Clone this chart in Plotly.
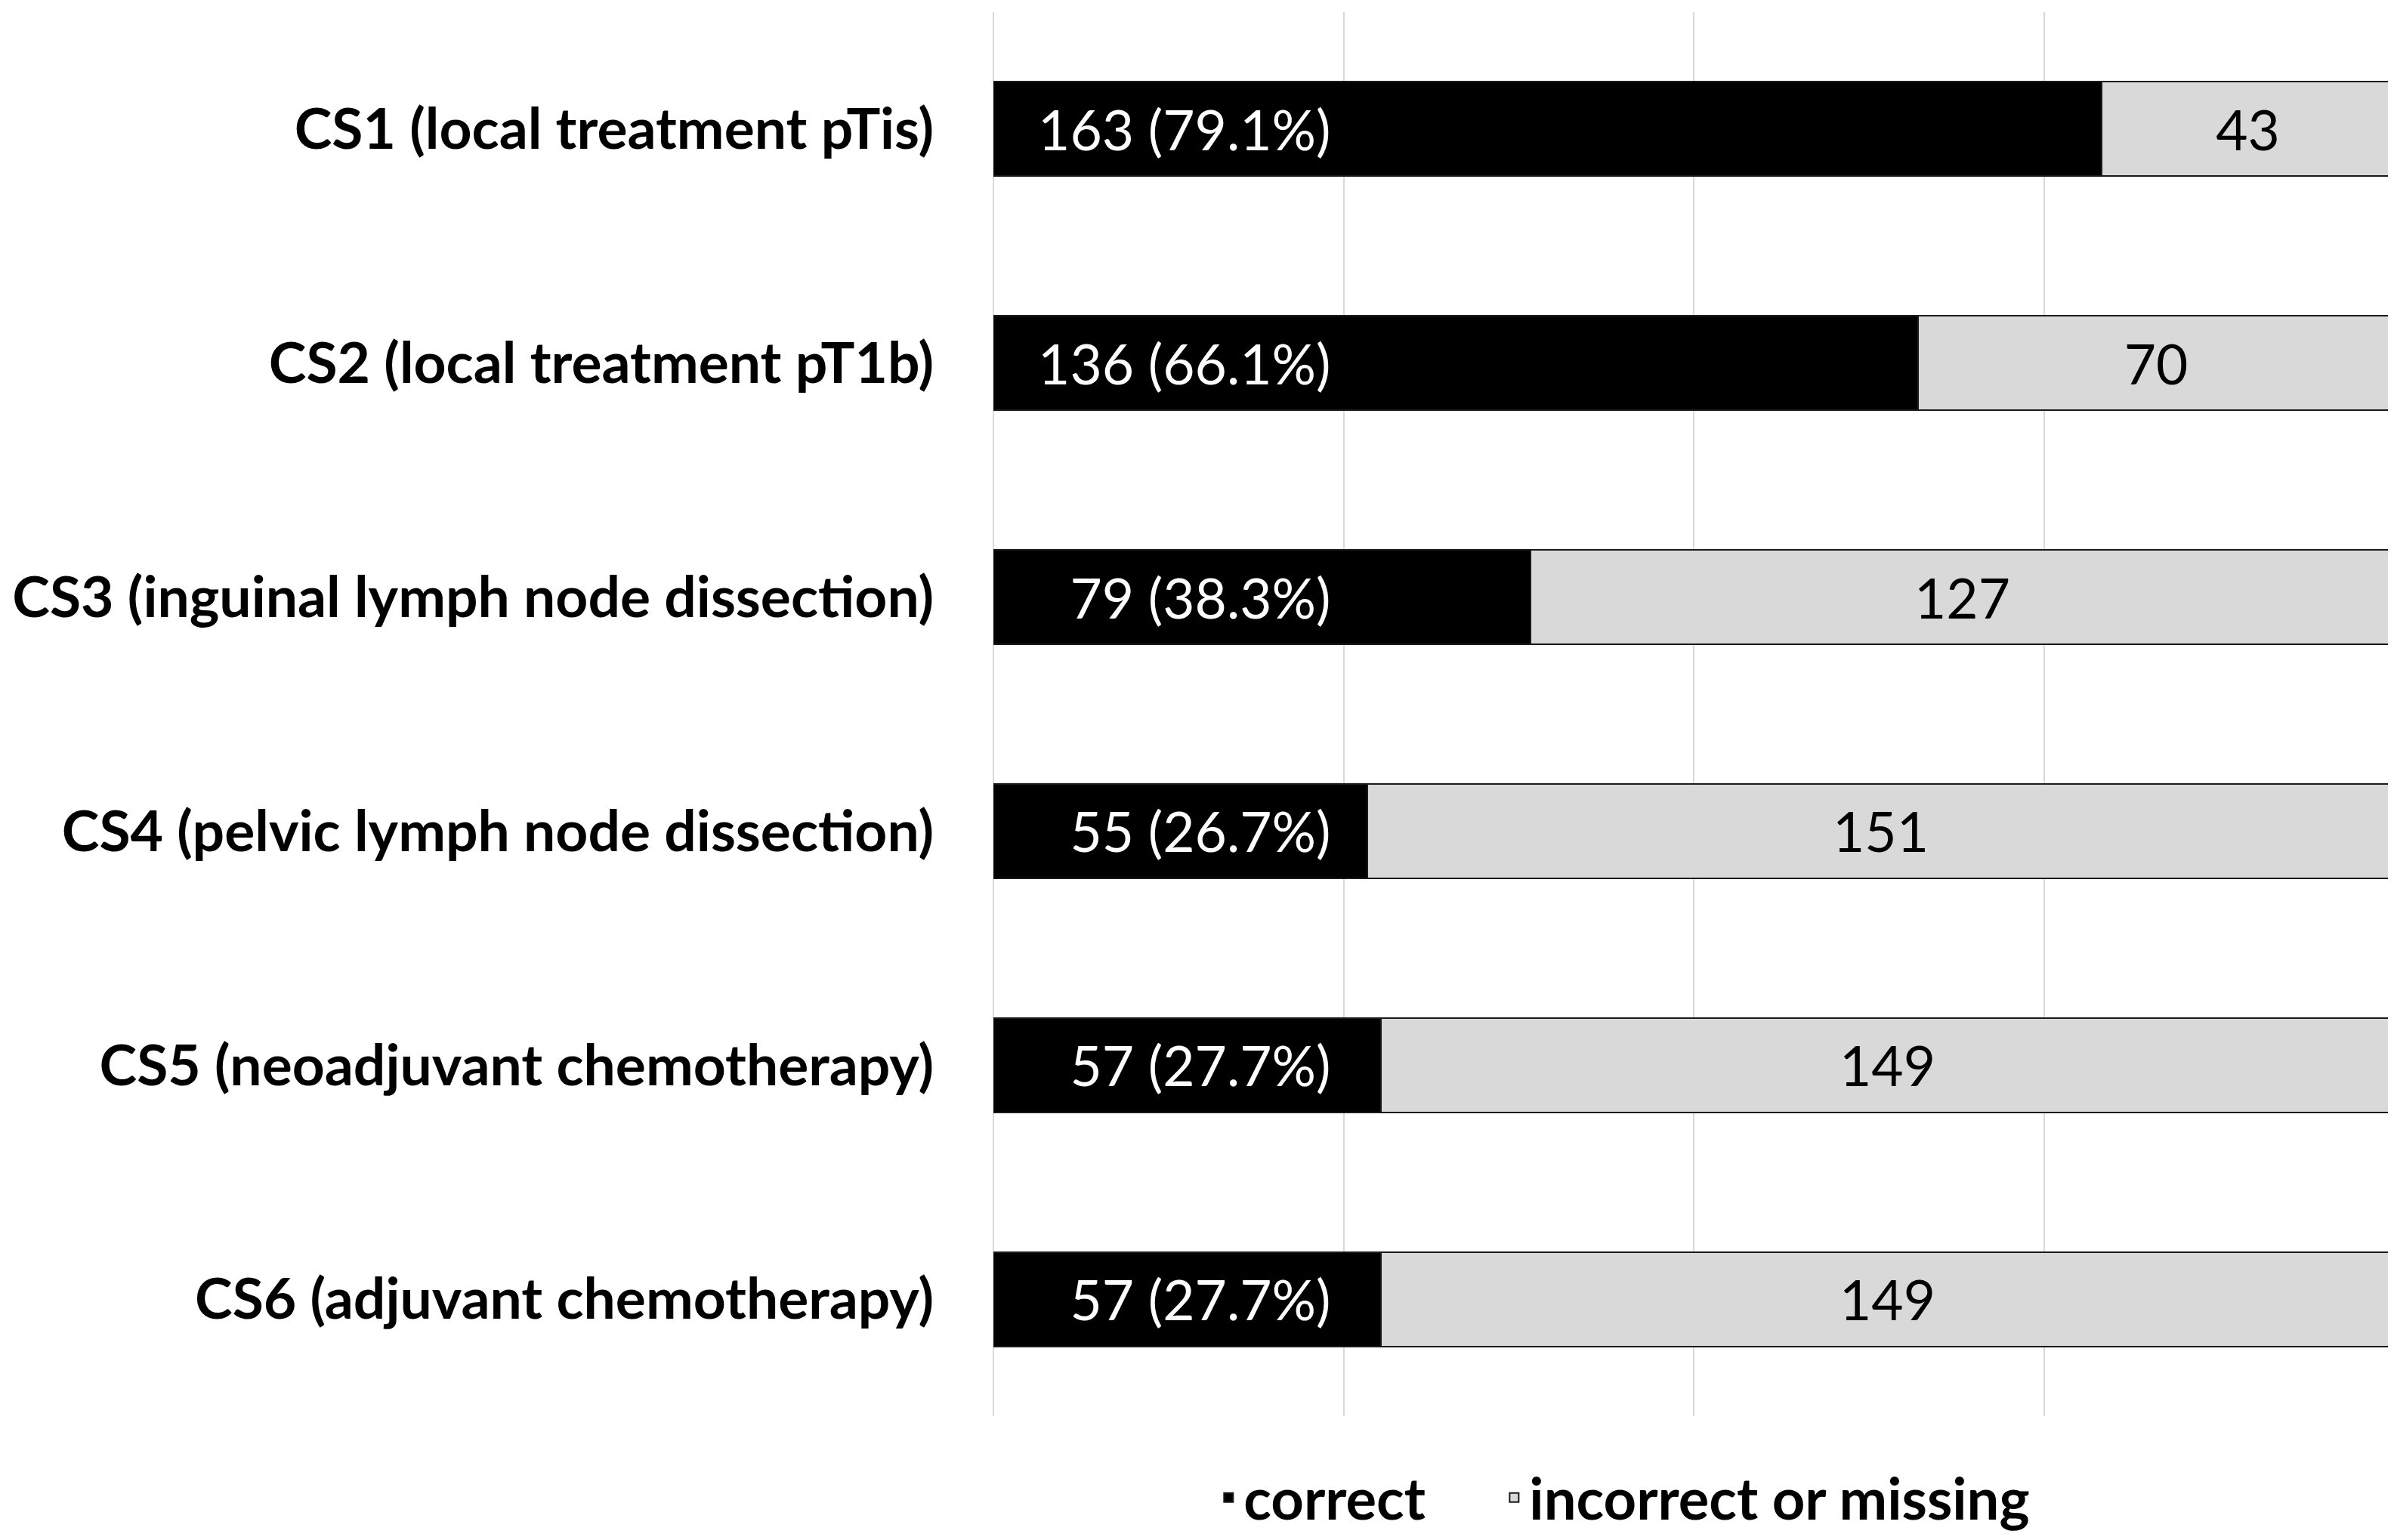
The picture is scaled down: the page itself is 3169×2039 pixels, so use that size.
import plotly.graph_objects as go

categories = [
    "CS1 (local treatment pTis)",
    "CS2 (local treatment pT1b)",
    "CS3 (inguinal lymph node dissection)",
    "CS4 (pelvic lymph node dissection)",
    "CS5 (neoadjuvant chemotherapy)",
    "CS6 (adjuvant chemotherapy)",
]
correct = [163, 136, 79, 55, 57, 57]
correct_pct = [79.1, 66.1, 38.3, 26.7, 27.7, 27.7]
incorrect = [43, 70, 127, 151, 149, 149]
series_names = ["correct", "incorrect or missing"]

FONT = "Lato"
NB = "\u00a0"
FIG = "\u2007"

def corr_label(c, p):
    s = f"{c} ({p:.1f}%)"
    pad = FIG * (3 - len(str(c)))
    return NB * 3 + pad + s

fig = go.Figure()
fig.add_trace(go.Bar(
    y=categories, x=correct, orientation="h", name=series_names[0] + NB * 5,
    marker=dict(color="#000000", line=dict(color="#1a1a1a", width=2)),
    text=[corr_label(c, p) for c, p in zip(correct, correct_pct)],
    textposition="inside", insidetextanchor="start", constraintext="none",
    textfont=dict(family=FONT, size=73, color="#ffffff"),
    hoverinfo="skip",
))
fig.add_trace(go.Bar(
    y=categories, x=incorrect, orientation="h", name=series_names[1],
    marker=dict(color="#d9d9d9", line=dict(color="#1a1a1a", width=2)),
    text=[str(v) for v in incorrect],
    textposition="inside", insidetextanchor="middle", constraintext="none",
    textfont=dict(family=FONT, size=73, color="#000000"),
    hoverinfo="skip",
))

fig.update_layout(
    width=3169, height=2039,
    margin=dict(l=1304, r=8, t=8, b=160),
    barmode="stack", barnorm="percent", bargap=0.597,
    plot_bgcolor="#ffffff", paper_bgcolor="#ffffff",
    font=dict(family=FONT, color="#000000"),
    showlegend=True,
    legend=dict(
        orientation="h", x=0.45, xanchor="center", y=-0.058, yanchor="middle",
        font=dict(family=FONT, size=76, color="#000000", weight="bold"),
        itemsizing="constant", traceorder="normal",
    ),
    xaxis=dict(
        range=[0, 100], dtick=25, showticklabels=False, showgrid=True,
        gridcolor="#d9d9d9", gridwidth=2, zeroline=True, zerolinecolor="#d9d9d9",
        zerolinewidth=2, showline=False, fixedrange=True,
    ),
    yaxis=dict(
        categoryorder="array", categoryarray=categories, autorange="reversed",
        tickfont=dict(family=FONT, size=75, color="#000000", weight="bold"),
        ticklabelstandoff=78, showgrid=False, showline=False, zeroline=False,
        ticks="",
    ),
)

fig.write_html("out.html")
